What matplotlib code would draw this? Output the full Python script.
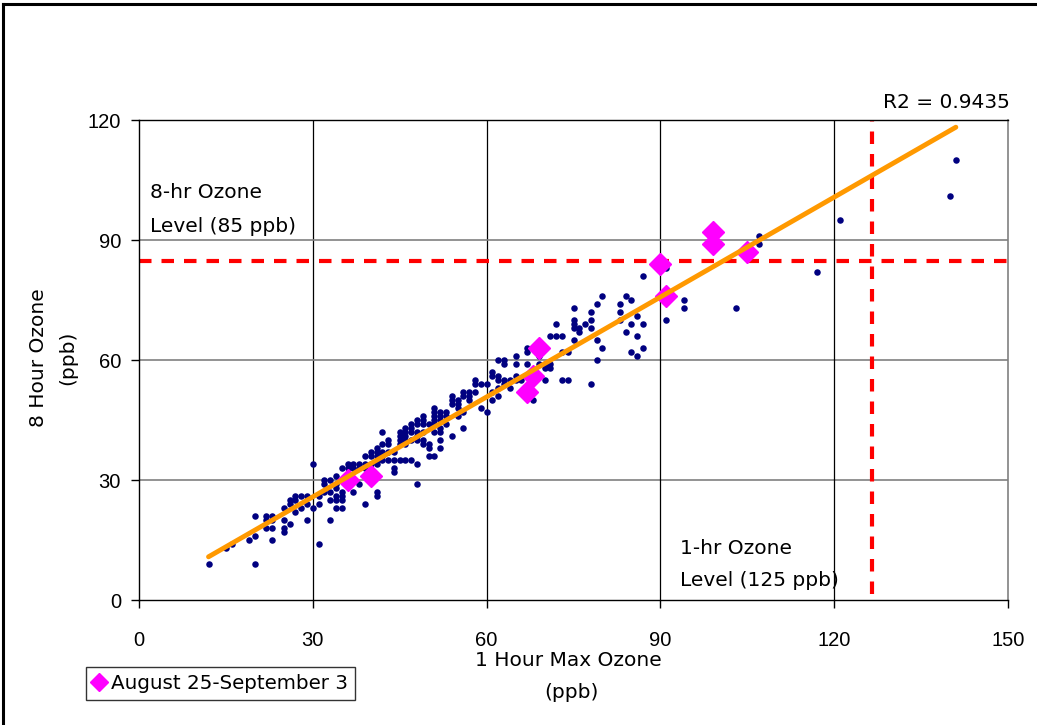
import numpy as np
import matplotlib
matplotlib.use("Agg")
import matplotlib.pyplot as plt
from matplotlib.lines import Line2D

# daily ozone: 1 hour max vs 8 hour (ppb)
one_hr = [12, 15, 16, 19, 20, 20, 20, 22, 22, 22, 23, 23, 23, 23,
          25, 25, 25, 25, 26, 26, 26, 27, 27, 27, 28, 28, 29, 29, 29,
          30, 30, 31, 31, 31, 32, 32, 32, 33, 33, 33, 33,
          34, 34, 34, 34, 34, 34, 35, 35, 35, 35, 35, 36, 36, 37, 37, 37,
          38, 38, 38, 39, 39, 39, 39, 40, 40, 40,
          41, 41, 41, 41, 41, 41, 41, 42, 42, 42, 42, 42, 43, 43, 43, 43,
          44, 44, 44, 44, 45, 45, 45, 45, 45, 46, 46, 46, 46, 46, 46,
          47, 47, 47, 47, 47, 48, 48, 48, 48, 48, 48, 48,
          49, 49, 49, 49, 49, 49, 50, 50, 50, 50,
          51, 51, 51, 51, 51, 51, 51, 52, 52, 52, 52, 52, 52, 52,
          53, 53, 53, 54, 54, 54, 54, 55, 55, 55, 55, 56, 56, 56, 56,
          57, 57, 57, 58, 58, 58, 59, 59, 60, 60, 61, 61, 61, 61,
          62, 62, 62, 62, 62, 63, 63, 63, 63, 64, 64, 65, 65, 65, 65,
          66, 66, 67, 67, 67, 68, 69, 69, 70, 70, 70, 71, 71, 71, 72, 72,
          73, 73, 73, 74, 74, 75, 75, 75, 75, 75, 76, 76, 77,
          78, 78, 78, 78, 79, 79, 79, 80, 80, 83, 83, 83, 84, 84,
          85, 85, 85, 86, 86, 86, 87, 87, 87, 91, 91, 94, 94,
          103, 107, 107, 117, 121, 140, 141]
eight_hr = [9, 13, 14, 15, 9, 16, 21, 18, 20, 21, 15, 18, 20, 21,
            17, 18, 20, 23, 19, 24, 25, 22, 25, 26, 23, 26, 20, 24, 26,
            23, 34, 14, 24, 26, 27, 29, 30, 20, 25, 27, 30,
            23, 25, 26, 28, 29, 31, 23, 25, 26, 27, 33, 33, 34, 27, 33, 34,
            29, 33, 34, 24, 33, 34, 36, 34, 36, 37,
            26, 27, 34, 35, 36, 37, 38, 35, 36, 37, 39, 42, 35, 37, 39, 40,
            32, 33, 35, 37, 35, 39, 40, 41, 42, 35, 39, 40, 41, 42, 43,
            35, 40, 42, 43, 44, 29, 34, 40, 41, 42, 44, 45,
            39, 40, 42, 44, 45, 46, 36, 38, 39, 44,
            36, 42, 44, 45, 46, 47, 48, 38, 40, 42, 43, 45, 46, 47,
            44, 46, 47, 41, 49, 50, 51, 46, 48, 49, 50, 43, 47, 51, 52,
            50, 51, 52, 52, 54, 55, 48, 54, 47, 54, 50, 52, 56, 57,
            51, 53, 55, 56, 60, 54, 55, 59, 60, 53, 55, 55, 56, 59, 61,
            52, 55, 59, 62, 63, 50, 59, 61, 55, 58, 59, 58, 59, 66, 66, 69,
            55, 62, 66, 55, 62, 65, 68, 69, 70, 73, 67, 68, 69,
            54, 68, 70, 72, 60, 65, 74, 63, 76, 70, 72, 74, 67, 76,
            62, 69, 75, 61, 66, 71, 63, 69, 81, 70, 83, 73, 75,
            73, 89, 91, 82, 95, 101, 110]

# August 25 - September 3 episode
ep_1hr = [36, 40, 67, 68, 69, 90, 91, 99, 99, 105]
ep_8hr = [30, 31, 52, 56, 63, 84, 76, 92, 89, 87]

# linear trend (R2 = 0.9435)
trend_x = [12, 141]
trend_y = [10.8, 118.2]

std_8hr = 84.8    # 8-hr standard
std_1hr = 126.5   # 1-hr standard

W, H = 1037, 725
fig = plt.figure(figsize=(W / 100, H / 100), dpi=100)
ax = fig.add_axes([139 / W, 1 - 600 / H, (1008 - 139) / W, (600 - 120) / H])

ax.set_xlim(0, 150)
ax.set_ylim(0, 120)
ax.set_xticks([0, 30, 60, 90, 120, 150])
ax.set_yticks([0, 30, 60, 90, 120])
for v in [30, 60, 90, 120]:
    ax.axvline(v, color="black", lw=0.9, zorder=1)
    ax.axhline(v, color="#808080", lw=1.2, zorder=1)

ax.plot([0, 150], [std_8hr, std_8hr], color="red", lw=3,
        ls=(0, (3.0, 2.4)), zorder=2, clip_on=False)
ax.plot([std_1hr, std_1hr], [1.5, 120], color="red", lw=3,
        ls=(0, (3.0, 2.4)), zorder=2, clip_on=False)

ax.scatter(one_hr, eight_hr, s=22, color="#000080", zorder=3, linewidths=0)
ax.plot(ep_1hr, ep_8hr, ls="none", marker="D", ms=11, color="#FF00FF",
        mec="#FF00FF", zorder=4)
ax.plot(trend_x, trend_y, color="#FF9900", lw=3.5, solid_capstyle="round", zorder=5)

for s in ["left", "bottom", "top"]:
    ax.spines[s].set_color("black")
    ax.spines[s].set_linewidth(1)
ax.spines["right"].set_color("#808080")
ax.spines["right"].set_linewidth(1.2)

ax.tick_params(axis="x", length=6, width=1, pad=16, labelsize=14.5)
ax.tick_params(axis="y", length=6, width=1, pad=7, labelsize=14.5)
for lab in ax.get_xticklabels() + ax.get_yticklabels():
    lab.set_fontfamily("Liberation Sans")

txt = dict(family="DejaVu Sans", size=14.5)
fig.text(150 / W, 1 - 193 / H, "8-hr Ozone", ha="left", va="center", **txt)
fig.text(150 / W, 1 - 226 / H, "Level (85 ppb)", ha="left", va="center", **txt)
fig.text(680 / W, 1 - 548 / H, "1-hr Ozone", ha="left", va="center", **txt)
fig.text(680 / W, 1 - 581 / H, "Level (125 ppb)", ha="left", va="center", **txt)
fig.text(1010 / W, 1 - 102 / H, "R2 = 0.9435", ha="right", va="center", **txt)

fig.text(568 / W, 1 - 660 / H, "1 Hour Max Ozone", ha="center", va="center", **txt)
fig.text(571 / W, 1 - 692 / H, "(ppb)", ha="center", va="center", **txt)
fig.text(38 / W, 1 - 358 / H, "8 Hour Ozone", ha="center", va="center", rotation=90, **txt)
fig.text(68 / W, 1 - 358 / H, "(ppb)", ha="center", va="center", rotation=90, **txt)

handle = Line2D([], [], ls="none", marker="D", ms=9, color="#FF00FF")
leg = fig.legend([handle], ["August 25-September 3"], loc="lower left",
                 bbox_to_anchor=(86 / W, 1 - 700 / H), frameon=True, fancybox=False,
                 handlelength=0.6, handletextpad=0.3, borderpad=0.35,
                 borderaxespad=0, prop={"family": "DejaVu Sans", "size": 14.3})
leg.get_frame().set_edgecolor("black")
leg.get_frame().set_linewidth(1)

# outer chart border (cut at right/bottom)
fig.add_artist(Line2D([3 / W, 3 / W], [0, 1 - 4 / H], color="black", lw=2.2))
fig.add_artist(Line2D([3 / W, 1], [1 - 4 / H, 1 - 4 / H], color="black", lw=2.2))

fig.savefig("out.png", dpi=100)
